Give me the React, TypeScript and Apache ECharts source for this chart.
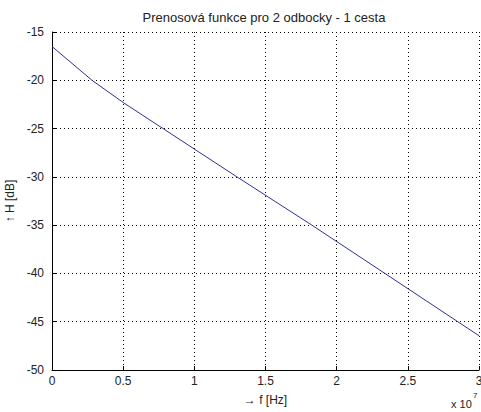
import React, { useEffect, useRef } from "react";
import * as echarts from "echarts";

const TITLE = "Prenosová funkce pro 2 odbocky - 1 cesta";
const X_NAME = "→ f [Hz]";
const Y_NAME = "↑ H [dB]";
const freqHz = [0, 0.281e7, 0.5e7, 0.78e7, 1.299e7, 1.826e7, 2.339e7, 2.851e7, 3.0e7];
const gainDb = [-16.5, -20, -22.3, -25, -30, -35, -40, -45, -46.45];

export default function App() {
  const ref = useRef<HTMLDivElement>(null);
  useEffect(() => {
    if (!ref.current) return;
    const chart = echarts.init(ref.current, null, { renderer: "svg" });
    const font = "'Liberation Sans', Arial, sans-serif";
    const data = freqHz.map((f, i) => [f, gainDb[i]]);
    chart.setOption({
      animation: false,
      backgroundColor: "#ffffff",
      title: {
        text: TITLE,
        left: 259,
        textAlign: "center",
        top: 6,
        textStyle: { fontSize: 13, fontWeight: "normal", color: "#222", fontFamily: font },
      },
      grid: { left: 52, right: 2, top: 32, bottom: 42, containLabel: false, outerBoundsMode: "none" },
      xAxis: {
        type: "value",
        min: 0,
        max: 3e7,
        interval: 0.5e7,
        name: X_NAME,
        nameLocation: "middle",
        nameGap: 24,
        nameTextStyle: { fontSize: 12, color: "#222", fontFamily: font },
        axisLine: { show: true, lineStyle: { color: "#000", width: 1 } },
        axisTick: { show: true, inside: true, length: 4, lineStyle: { color: "#000" } },
        axisLabel: {
          formatter: (v: number) => String(v / 1e7),
          fontSize: 12,
          color: "#222",
          fontFamily: font,
          margin: 5,
          hideOverlap: false,
        },
        splitLine: { show: true, lineStyle: { color: "#000", type: [1, 3], width: 1 } },
      },
      yAxis: {
        type: "value",
        min: -50,
        max: -15,
        interval: 5,
        name: Y_NAME,
        nameLocation: "middle",
        nameRotate: 90,
        nameGap: 33,
        nameTextStyle: { fontSize: 12, color: "#222", fontFamily: font },
        axisLine: { show: true, lineStyle: { color: "#000", width: 1 } },
        axisTick: { show: true, inside: true, length: 4, lineStyle: { color: "#000" } },
        axisLabel: { fontSize: 12, color: "#222", fontFamily: font, margin: 8 },
        splitLine: { show: true, lineStyle: { color: "#000", type: [1, 3], width: 1 } },
      },
      graphic: [
        {
          type: "text",
          left: 451,
          top: 398,
          style: { text: "x 10", fontSize: 11, fill: "#222", fontFamily: font },
        },
        {
          type: "text",
          left: 473,
          top: 391,
          style: { text: "7", fontSize: 8, fill: "#222", fontFamily: font },
        },
      ],
      series: [
        {
          type: "line",
          data,
          showSymbol: false,
          smooth: false,
          lineStyle: { color: "#2f2f9a", width: 1 },
          itemStyle: { color: "#2f2f9a" },
        },
      ],
    });
    return () => chart.dispose();
  }, []);
  return (
    <div
      ref={ref}
      style={{ position: "fixed", left: 0, top: 0, width: 481, height: 412, background: "#fff" }}
    />
  );
}
